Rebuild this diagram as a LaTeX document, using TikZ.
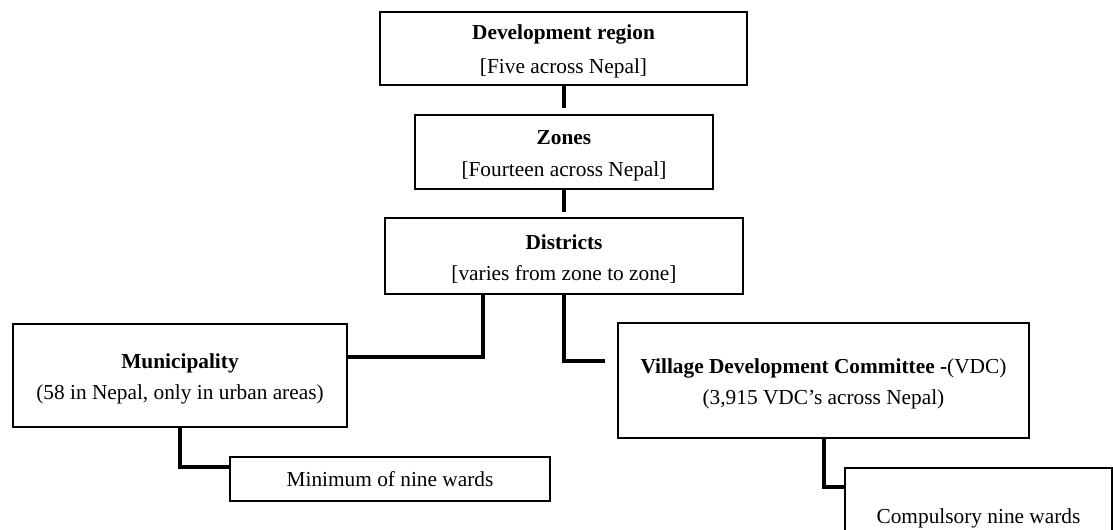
\documentclass[tikz,border=0pt]{standalone}
\usepackage{fontspec}
\setmainfont{Liberation Serif}
% invisible strut that pushes two-line labels slightly down in their boxes
\newcommand*\hdrstrut{\rule{0pt}{16pt}}
\begin{document}
\begin{tikzpicture}[x=0.75pt, y=-0.75pt,
  unit/.style={draw, line width=1.5pt, inner sep=0pt, outer sep=0pt, align=center,
    font=\fontsize{16}{23.5}\selectfont},
  link/.style={line width=3pt, line join=miter}]
\useasboundingbox (0,0) rectangle (1113,529);

% administrative units
\node[unit, minimum width=275.25pt, minimum height=54.75pt,
  font=\fontsize{16}{25.5}\selectfont] (region) at (563.5,48.5)
  {\hdrstrut\textbf{Development region}\\\relax [Five across Nepal]};
\node[unit, minimum width=223.5pt, minimum height=55.5pt] (zones) at (564,152)
  {\hdrstrut\textbf{Zones}\\\relax [Fourteen across Nepal]};
\node[unit, minimum width=268.5pt, minimum height=57pt] (districts) at (564,256)
  {\hdrstrut\textbf{Districts}\\\relax [varies from zone to zone]};
\node[unit, minimum width=250.5pt, minimum height=77.25pt] (muni) at (180,375.5)
  {\hdrstrut\textbf{Municipality}\\(58 in Nepal, only in urban areas)};
\node[unit, minimum width=240pt, minimum height=33pt] (minwards) at (390,479)
  {Minimum of nine wards};
\node[unit, minimum width=308.25pt, minimum height=86.25pt] (vdc) at (823.5,380.5)
  {\hdrstrut\textbf{Village Development Committee -}(VDC)\\(3,915 VDC’s across Nepal)};
\node[unit, minimum width=200.25pt, minimum height=70.5pt] (compwards) at (978.5,515)
  {\hdrstrut Compulsory nine wards};

% links between levels
\draw[link, shorten >=5.25pt] (region.south) -- (region.south |- zones.north);
\draw[link, shorten >=4.5pt] (zones.south) -- (zones.south |- districts.north);
\draw[link] ([xshift=-60.75pt]districts.south) |- ([yshift=13.875pt]muni.east);
\draw[link, shorten >=9.75pt] (districts.south) |- ([yshift=14.625pt]vdc.west);
\draw[link] (muni.south) |- ([yshift=9pt]minwards.west);
\draw[link] (vdc.south) |- ([yshift=21pt]compwards.west);
\end{tikzpicture}
\end{document}
